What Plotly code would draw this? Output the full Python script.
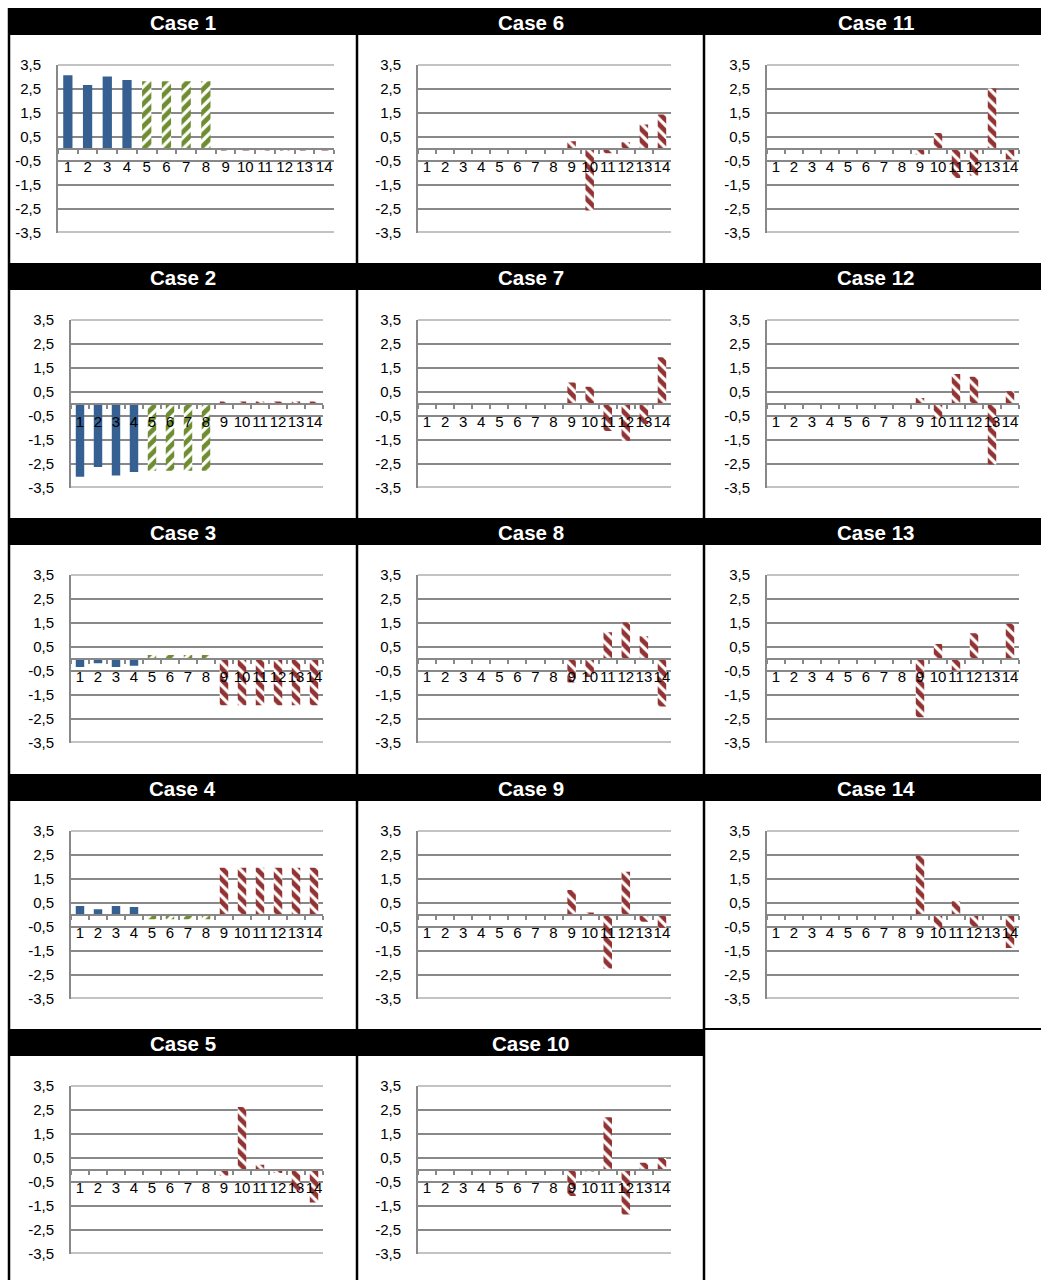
import plotly.graph_objects as go

W, H = 1041, 1280

# Category labels and y tick labels (comma decimal separator)
categories = ["1", "2", "3", "4", "5", "6", "7", "8", "9", "10", "11", "12", "13", "14"]
ytick_vals = [3.5, 2.5, 1.5, 0.5, -0.5, -1.5, -2.5, -3.5]
ytick_text = ["3,5", "2,5", "1,5", "0,5", "-0,5", "-1,5", "-2,5", "-3,5"]

# Values per case, categories 1..14
case1 = [3.05, 2.65, 3.0, 2.85, 2.8, 2.8, 2.8, 2.8, -0.05, -0.05, -0.05, -0.05, -0.05, -0.05]
case2 = [-3.05, -2.65, -3.0, -2.85, -2.8, -2.8, -2.8, -2.8, 0.05, 0.05, 0.05, 0.05, 0.05, 0.05]
case3 = [-0.35, -0.2, -0.35, -0.3, 0.15, 0.15, 0.15, 0.15, -1.95, -1.95, -1.95, -1.95, -1.95, -1.95]
case4 = [0.35, 0.22, 0.35, 0.31, -0.2, -0.2, -0.2, -0.2, 1.95, 1.95, 1.95, 1.95, 1.95, 1.95]
case5 = [0, 0, 0, 0, 0, 0, 0, 0, -0.25, 2.6, 0.2, -0.15, -0.87, -1.38]
case6 = [0, 0, 0, 0, 0, 0, 0, 0, 0.3, -2.58, -0.2, 0.26, 1.0, 1.42]
case7 = [0, 0, 0, 0, 0, 0, 0, 0, 0.88, 0.7, -1.15, -1.55, -0.85, 1.93]
case8 = [0, 0, 0, 0, 0, 0, 0, 0, -1.0, -0.77, 1.09, 1.5, 0.93, -2.0]
case9 = [0, 0, 0, 0, 0, 0, 0, 0, 1.02, 0.05, -2.25, 1.78, -0.3, -0.55]
case10 = [0, 0, 0, 0, 0, 0, 0, 0, -1.1, -0.05, 2.18, -1.87, 0.28, 0.48]
case11 = [0, 0, 0, 0, 0, 0, 0, 0, -0.25, 0.65, -1.23, -1.12, 2.5, -0.46]
case12 = [0, 0, 0, 0, 0, 0, 0, 0, 0.23, -0.63, 1.23, 1.11, -2.54, 0.51]
case13 = [0, 0, 0, 0, 0, 0, 0, 0, -2.45, 0.6, -0.5, 1.05, -0.03, 1.45]
case14 = [0, 0, 0, 0, 0, 0, 0, 0, 2.45, -0.6, 0.55, -0.5, -0.03, -1.4]

cases = [case1, case2, case3, case4, case5, case6, case7,
         case8, case9, case10, case11, case12, case13, case14]
titles = ["Case %d" % (i + 1) for i in range(len(cases))]

# Series groups: which categories belong to which colour/pattern
groups = [
    dict(idx=range(0, 4), color="#376092", pattern=None),
    dict(idx=range(4, 8), color="#6E8D30", pattern="/"),
    dict(idx=range(8, 14), color="#913332", pattern="\\"),
]

GRID = "#888888"
FONT = "Arial, Liberation Sans, sans-serif"

# Table layout in pixels
row_tops = [8, 263, 518, 774, 1029]
header_h = 27
col_centers = [182.5, 530.5, 876]


def plot_x(case_no, col):
    if case_no == 1:
        return 58, 334
    return [(71, 323), (418, 671), (767, 1019)][col]


def px_x(v):
    return v / W


def px_y(v):
    return 1 - v / H


fig = go.Figure()
layout = dict(
    width=W, height=H, autosize=False,
    margin=dict(l=0, r=0, t=0, b=0, autoexpand=False),
    paper_bgcolor="white", plot_bgcolor="rgba(0,0,0,0)",
    showlegend=False, barmode="overlay",
    font=dict(family=FONT, color="black"),
)

shapes = []
annotations = []

for k, vals in enumerate(cases):
    case_no = k + 1
    col, row = divmod(k, 5)
    top = row_tops[row]
    x0, x1 = plot_x(case_no, col)
    y_top, y_bot = top + 56.5, top + 224.5
    ax = "" if k == 0 else str(k + 1)

    for g in groups:
        xs = [categories[i] for i in g["idx"]]
        ys = [vals[i] for i in g["idx"]]
        if g["pattern"] is None:
            marker = dict(color=g["color"], line=dict(width=0))
        else:
            marker = dict(color="white", line=dict(width=0),
                          pattern=dict(shape=g["pattern"], fgcolor=g["color"],
                                       bgcolor="white", fgopacity=1,
                                       size=8, solidity=0.6))
        fig.add_trace(go.Bar(x=xs, y=ys, width=0.47, marker=marker,
                             xaxis="x" + ax, yaxis="y" + ax, hoverinfo="skip"))

    zero_y = (y_top + y_bot) / 2
    layout["xaxis" + ax] = dict(
        domain=[px_x(x0), px_x(x1)], anchor="free", position=px_y(zero_y),
        type="category", categoryorder="array", categoryarray=categories,
        range=[-0.5, 13.5], showgrid=False, zeroline=False,
        showline=True, linecolor=GRID, linewidth=2,
        ticks="outside", tickson="boundaries", ticklen=4, tickwidth=2, tickcolor=GRID,
        tickangle=0, tickfont=dict(size=15, family=FONT, color="black"),
        ticklabelstandoff=4, fixedrange=True, automargin=False,
    )
    layout["yaxis" + ax] = dict(
        domain=[px_y(y_bot), px_y(y_top)], anchor="x" + ax,
        range=[-3.5, 3.5], tickmode="array", tickvals=ytick_vals, ticktext=ytick_text,
        showgrid=True, gridcolor=GRID, gridwidth=2, zeroline=False,
        showline=True, linecolor=GRID, linewidth=2, ticks="",
        tickfont=dict(size=15, family=FONT, color="black"), ticklabelstandoff=12,
        fixedrange=True, automargin=False,
    )
    # outer gridlines at the ends of the value range
    for yv in (3.5, -3.5):
        shapes.append(dict(type="line", xref="x%s domain" % ax, yref="y" + ax,
                           x0=0, x1=1, y0=yv, y1=yv,
                           line=dict(color=GRID, width=2), layer="below"))

    annotations.append(dict(
        text="<b>%s</b>" % titles[k], x=px_x(col_centers[col]), y=px_y(top + header_h / 2 + 0.5),
        xref="paper", yref="paper", xanchor="center", yanchor="middle", showarrow=False,
        font=dict(size=20.5, family=FONT, color="white"),
    ))

# Black header bars
for r, top in enumerate(row_tops):
    right = 1041 if r < 4 else 705
    shapes.append(dict(type="rect", xref="paper", yref="paper",
                       x0=px_x(8), x1=px_x(right), y0=px_y(top + header_h), y1=px_y(top),
                       fillcolor="black", line=dict(width=0), layer="above"))

# Cell borders
for xv in (9, 357, 704):
    shapes.append(dict(type="line", xref="paper", yref="paper",
                       x0=px_x(xv), x1=px_x(xv), y0=px_y(H), y1=px_y(8),
                       line=dict(color="black", width=2.5), layer="above"))
shapes.append(dict(type="line", xref="paper", yref="paper",
                   x0=px_x(704), x1=px_x(1041), y0=px_y(1029), y1=px_y(1029),
                   line=dict(color="black", width=2), layer="above"))

layout["shapes"] = shapes
layout["annotations"] = annotations
fig.update_layout(**layout)

page_css = (
    "var s=document.createElement('style');"
    "s.textContent='html,body{margin:0!important;padding:0!important;overflow:hidden!important;}';"
    "document.head.appendChild(s);window.scrollTo(0,0);"
)
fig.write_html("out.html", post_script=page_css)
